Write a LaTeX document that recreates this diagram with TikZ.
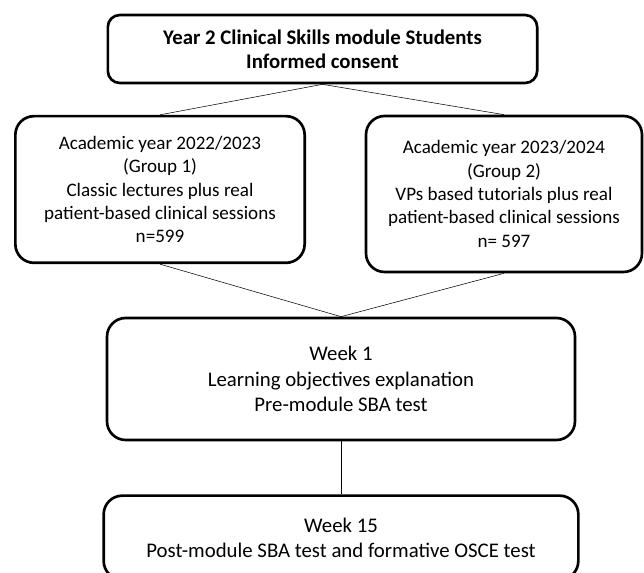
\documentclass[tikz,border=0pt]{standalone}
\usepackage{fontspec}
\setmainfont{Carlito}
\usepackage{tikz}
\usetikzlibrary{positioning}

\begin{document}
\begin{tikzpicture}[x=0.75pt, y=-0.75pt, thin]
      \tikzstyle{every node}=[font=\fontsize{15.6}{19}\selectfont]
      \tikzstyle{stage}=[draw=black, line width=2pt, rounded corners=14pt, align=center, fill=white]
      \tikzstyle{group}=[stage, font=\fontsize{14.3}{17.5}\selectfont]

      \path[use as bounding box, clip] (0,0) rectangle (644,573);

      \node[stage, rounded corners=9pt, minimum width=322pt, minimum height=51pt, font=\fontsize{15.6}{18}\selectfont\bfseries] (T) at (322.5,49)
            {Year 2 Clinical Skills module Students\\Informed consent};
      \node[group, minimum width=217pt, minimum height=110pt] (G1) at (160,189.5)
            {Academic year 2022/2023\\(Group 1)\\Classic lectures plus real\\patient-based clinical sessions\\n=599};
      \node[group, minimum width=207pt, minimum height=117pt] (G2) at (504,194)
            {Academic year 2023/2024\\(Group 2)\\VPs based tutorials plus real\\patient-based clinical sessions\\n= 597};
      \node[stage, minimum width=351pt, minimum height=91.5pt] (W1) at (341,379)
            {Week 1\\Learning objectives explanation\\Pre-module SBA test};
      \node[stage, minimum width=356pt, minimum height=63pt, below=39.75pt of W1] (W15)
            {Week 15\\Post-module SBA test and formative OSCE test};

      \draw (T.south) -- (G1.north);
      \draw (T.south) -- (G2.north);
      \draw (G1.south) -- (W1.north);
      \draw (G2.south) -- (W1.north);
      \draw (W1.south) -- (W15.north);

\end{tikzpicture}
\end{document}
